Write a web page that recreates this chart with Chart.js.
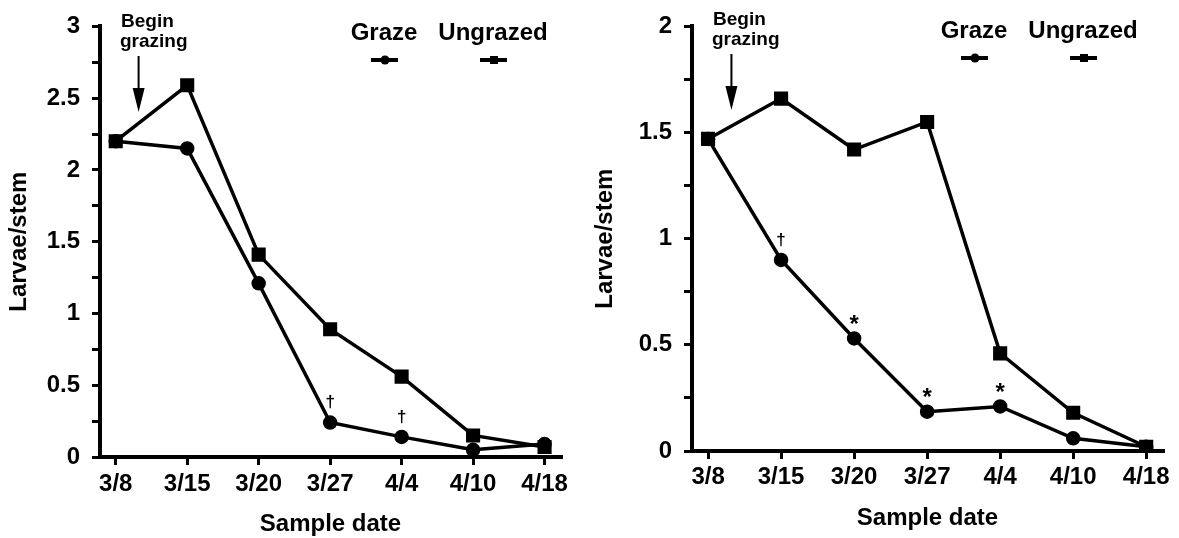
<!DOCTYPE html>
<html>
<head>
<meta charset="utf-8">
<script src="https://cdn.jsdelivr.net/npm/chart.js@4"></script>
<style>
  body { margin: 0; background: #fff; }
  canvas { position: absolute; top: 0; }
  #chart-left { left: 0; }
  #chart-right { left: 590px; }
</style>
</head>
<body>
<canvas id="chart-left" width="590" height="538"></canvas>
<canvas id="chart-right" width="589" height="538"></canvas>
<script>
// sample dates (x axis)
var dates = ["3/8", "3/15", "3/20", "3/27", "4/4", "4/10", "4/18"];

// left panel, larvae per stem
var leftGraze = [2.2, 2.15, 1.21, 0.24, 0.14, 0.05, 0.09];
var leftUngrazed = [2.2, 2.59, 1.41, 0.89, 0.56, 0.15, 0.07];
var leftMarks = ["", "", "", "\u2020", "\u2020", "", ""];
var leftYTicks = [0, 0.5, 1, 1.5, 2, 2.5, 3];

// right panel, larvae per stem
var rightGraze = [1.47, 0.9, 0.53, 0.185, 0.21, 0.06, 0.02];
var rightUngrazed = [1.47, 1.66, 1.42, 1.55, 0.46, 0.18, 0.02];
var rightMarks = ["", "\u2020", "*", "*", "*", "", ""];
var rightYTicks = [0, 0.5, 1, 1.5, 2];

var FONT = "'Liberation Sans', Arial, sans-serif";

function toPoints(values) {
    return values.map(function (v, i) { return { x: i, y: v }; });
}

// legend, "Begin grazing" arrow and significance marks
var notesPlugin = {
    id: "notes",
    afterDatasetsDraw: function (chart, args, opts) {
        var ctx = chart.ctx;
        var xs = chart.scales.x, ys = chart.scales.y;
        ctx.save();
        ctx.fillStyle = "#000";
        ctx.strokeStyle = "#000";
        ctx.textAlign = "center";
        ctx.textBaseline = "middle";

        // marks above grazed points
        opts.marks.forEach(function (m, i) {
            if (!m) return;
            var px = xs.getPixelForValue(i);
            var py = ys.getPixelForValue(opts.graze[i]);
            ctx.font = (m === "*" ? "bold 24px " : "bold 17px ") + FONT;
            ctx.fillText(m, px, py - (m === "*" ? 13 : 20));
        });

        // begin grazing
        ctx.font = "bold 19px " + FONT;
        ctx.textAlign = "left";
        ctx.fillText("Begin", opts.beginX, opts.beginY);
        ctx.fillText("grazing", opts.beginX - 1, opts.beginY + 20);
        var ax = xs.getPixelForValue(0.32);
        ctx.lineWidth = 2;
        ctx.beginPath();
        ctx.moveTo(ax, opts.beginY + 34);
        ctx.lineTo(ax, opts.beginY + 75);
        ctx.stroke();
        ctx.beginPath();
        ctx.moveTo(ax - 6, opts.beginY + 66);
        ctx.lineTo(ax + 6, opts.beginY + 66);
        ctx.lineTo(ax, opts.beginY + 90);
        ctx.closePath();
        ctx.fill();

        // legend
        ctx.textAlign = "center";
        ctx.font = "bold 24px " + FONT;
        ctx.fillText("Graze", 384, opts.legendY);
        ctx.fillText("Ungrazed", 493, opts.legendY);
        ctx.lineWidth = 4;
        ctx.beginPath();
        ctx.moveTo(371, opts.legendY + 27);
        ctx.lineTo(398, opts.legendY + 27);
        ctx.moveTo(480, opts.legendY + 27);
        ctx.lineTo(507, opts.legendY + 27);
        ctx.stroke();
        ctx.beginPath();
        ctx.arc(385, opts.legendY + 27, 4.5, 0, Math.PI * 2);
        ctx.fill();
        ctx.fillRect(490, opts.legendY + 23, 8, 8);
        ctx.restore();
    }
};

function makeChart(id, graze, ungrazed, marks, yTicks, geo) {
    var ctx = document.getElementById(id).getContext("2d");
    return new Chart(ctx, {
        type: "line",
        data: {
            datasets: [
                {
                    label: "Ungrazed",
                    data: toPoints(ungrazed),
                    borderColor: "#000",
                    backgroundColor: "#000",
                    borderWidth: 3.5,
                    pointStyle: "rect",
                    pointRadius: 7.5,
                    pointHoverRadius: 7.5
                },
                {
                    label: "Graze",
                    data: toPoints(graze),
                    borderColor: "#000",
                    backgroundColor: "#000",
                    borderWidth: 3.5,
                    pointStyle: "circle",
                    pointRadius: 5.5,
                    pointHoverRadius: 5.5
                }
            ]
        },
        options: {
            responsive: false,
            animation: false,
            layout: {
                padding: { top: geo.top, right: geo.right, bottom: geo.bottom, left: 0 }
            },
            plugins: {
                legend: { display: false },
                tooltip: { enabled: false },
                notes: {
                    marks: marks,
                    graze: graze,
                    beginX: geo.beginX,
                    beginY: geo.beginY,
                    legendY: geo.legendY
                }
            },
            scales: {
                x: {
                    type: "linear",
                    min: -0.22,
                    max: 6.23,
                    afterFit: function (s) {
                        s.height = 81;
                        s.paddingLeft = 0;
                        s.paddingRight = 0;
                    },
                    border: { color: "#000", width: 4 },
                    grid: {
                        drawOnChartArea: false,
                        drawTicks: true,
                        tickLength: 8,
                        color: "#000",
                        lineWidth: 3
                    },
                    ticks: {
                        stepSize: 1,
                        includeBounds: false,
                        autoSkip: false,
                        maxRotation: 0,
                        padding: geo.xPad,
                        color: "#000",
                        font: { family: FONT, size: 24, weight: "bold", lineHeight: 1.2 },
                        callback: function (v) { return dates[v]; }
                    },
                    title: {
                        display: true,
                        text: "Sample date",
                        color: "#000",
                        padding: 0,
                        font: { family: FONT, size: 24, weight: "bold", lineHeight: 1.1 }
                    }
                },
                y: {
                    min: 0,
                    max: yTicks[yTicks.length - 1],
                    afterFit: function (s) { s.width = geo.left; },
                    border: { color: "#000", width: 4 },
                    grid: {
                        drawOnChartArea: false,
                        drawTicks: true,
                        tickLength: 8,
                        color: "#000",
                        lineWidth: 3
                    },
                    ticks: {
                        stepSize: 0.25,
                        padding: 12,
                        color: "#000",
                        font: { family: FONT, size: 24, weight: "bold" },
                        callback: function (v) {
                            return yTicks.indexOf(v) >= 0 ? String(v) : "";
                        }
                    },
                    title: {
                        display: true,
                        text: "Larvae/stem",
                        color: "#000",
                        padding: { top: geo.titlePad, bottom: 0 },
                        font: { family: FONT, size: 24, weight: "bold", lineHeight: 1.2 }
                    }
                }
            }
        },
        plugins: [notesPlugin]
    });
}

makeChart("chart-left", leftGraze, leftUngrazed, leftMarks, leftYTicks,
    { left: 100, top: 22, right: 29, bottom: 0, xPad: 5, titlePad: 5,
      beginX: 121, beginY: 22, legendY: 33 });

makeChart("chart-right", rightGraze, rightUngrazed, rightMarks, rightYTicks,
    { left: 102, top: 20, right: 16, bottom: 6, xPad: 4, titlePad: 1,
      beginX: 123, beginY: 20, legendY: 31 });
</script>
</body>
</html>
